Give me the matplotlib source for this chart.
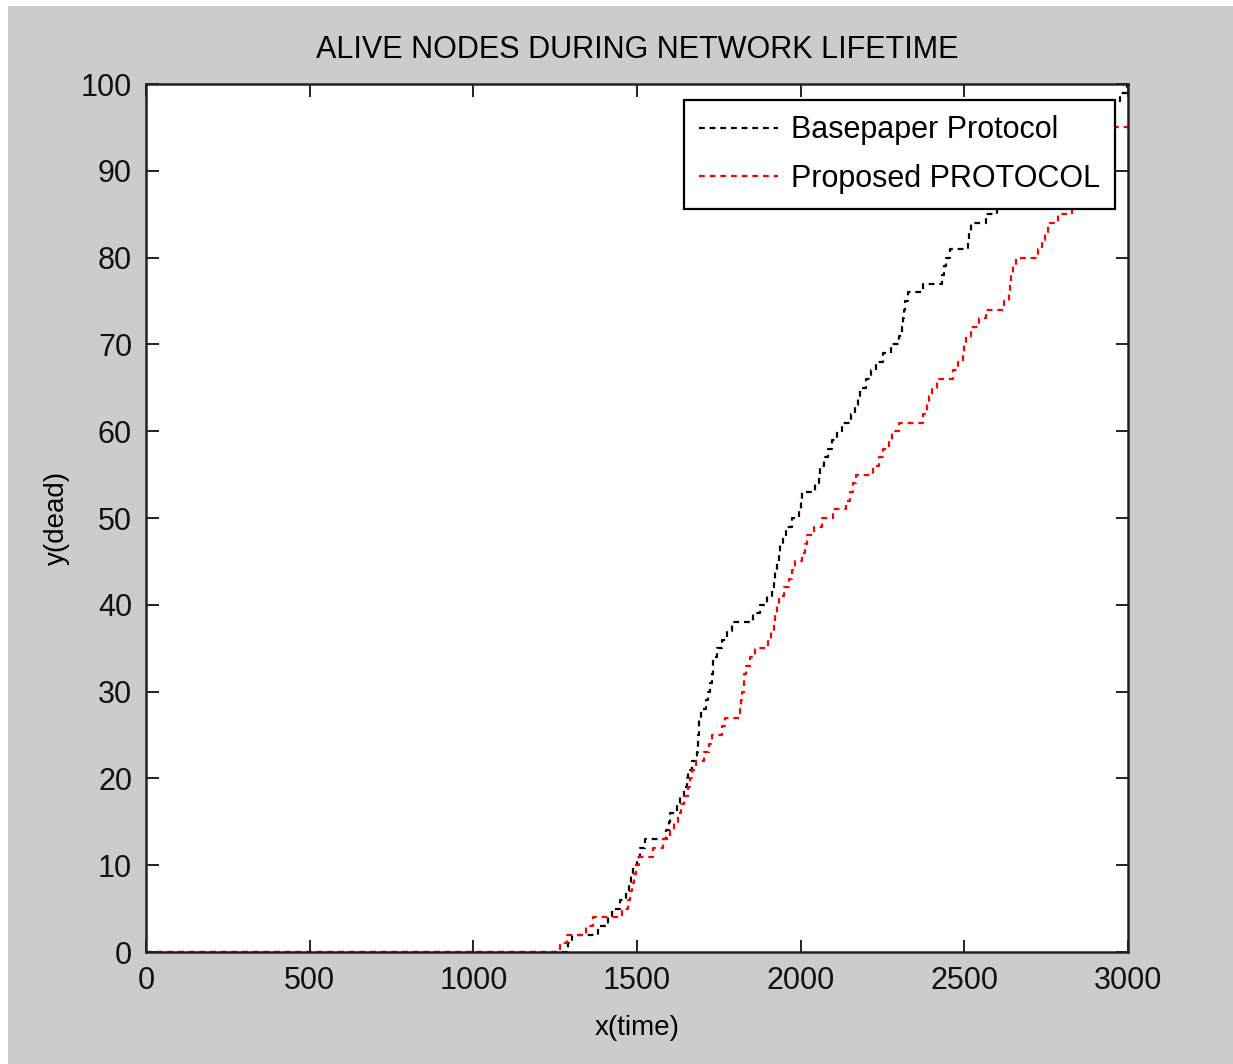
import matplotlib.pyplot as plt
from matplotlib.patches import Rectangle
from matplotlib import font_manager

# rounds at which the dead-node count steps up, and the count after the step
base_rounds = [0, 1290, 1300, 1380, 1410, 1424, 1448, 1465, 1475, 1482, 1488, 1500,
               1510, 1525, 1590, 1597, 1601, 1622, 1631, 1645, 1653, 1656, 1668,
               1683, 1686, 1690, 1695, 1710, 1718, 1723, 1729, 1732, 1745, 1760,
               1775, 1790, 1855, 1876, 1897, 1912, 1918, 1922, 1928, 1933, 1937,
               1946, 1955, 1975, 1995, 2000, 2005, 2045, 2055, 2060, 2070, 2085,
               2095, 2110, 2125, 2155, 2165, 2175, 2180, 2200, 2215, 2230, 2250,
               2275, 2300, 2310, 2313, 2316, 2319, 2328, 2375, 2432, 2438, 2445,
               2455, 2510, 2515, 2520, 2565, 2600, 2640, 2690, 2740, 2790, 2840,
               2900, 2975, 2998]
base_dead = [0, 1, 2, 3, 4, 5, 6, 7, 8, 9, 10, 11,
             12, 13, 14, 15, 16, 17, 18, 19, 20, 21, 22,
             23, 25, 27, 28, 29, 30, 31, 32, 34, 35, 36,
             37, 38, 39, 40, 41, 42, 43, 44, 45, 46, 47,
             48, 49, 50, 51, 52, 53, 54, 55, 56, 57, 58,
             59, 60, 61, 62, 63, 64, 65, 66, 67, 68, 69,
             70, 71, 72, 73, 74, 75, 76, 77, 78, 79, 80,
             81, 82, 83, 84, 85, 86, 88, 90, 92, 94, 96,
             98, 99, 100]

prop_rounds = [0, 1265, 1285, 1345, 1365, 1455, 1472, 1480, 1484, 1490, 1498, 1505,
               1550, 1580, 1600, 1612, 1625, 1635, 1645, 1655, 1662, 1668, 1680,
               1705, 1720, 1730, 1760, 1770, 1815, 1818, 1822, 1826, 1828, 1832,
               1845, 1860, 1900, 1910, 1918, 1922, 1928, 1935, 1950, 1965, 1975,
               1983, 2005, 2012, 2020, 2040, 2065, 2100, 2140, 2150, 2160, 2170,
               2220, 2240, 2250, 2270, 2280, 2300, 2375, 2385, 2392, 2400, 2415,
               2465, 2480, 2495, 2500, 2505, 2520, 2545, 2565, 2620, 2635, 2640,
               2643, 2648, 2658, 2725, 2738, 2745, 2755, 2785, 2830, 2870, 2910,
               2940, 2960]
prop_dead = [0, 1, 2, 3, 4, 5, 6, 7, 8, 9, 10, 11,
             12, 13, 14, 15, 16, 17, 18, 19, 20, 21, 22,
             23, 24, 25, 26, 27, 28, 29, 30, 31, 32, 33,
             34, 35, 36, 37, 38, 39, 40, 41, 42, 43, 44,
             45, 46, 47, 48, 49, 50, 51, 52, 53, 54, 55,
             56, 57, 58, 59, 60, 61, 62, 63, 64, 65, 66,
             67, 68, 69, 70, 71, 72, 73, 74, 75, 76, 77,
             78, 79, 80, 81, 82, 83, 84, 85, 87, 89, 91,
             93, 95]

x_ticks = [0, 500, 1000, 1500, 2000, 2500, 3000]
y_ticks = [0, 10, 20, 30, 40, 50, 60, 70, 80, 90, 100]

names = {f.name for f in font_manager.fontManager.ttflist}
fam = ['Liberation Sans Narrow'] if 'Liberation Sans Narrow' in names else ['Liberation Sans']
plt.rcParams['font.family'] = fam + ['DejaVu Sans']

W, H = 1233, 1064
fig = plt.figure(figsize=(W / 100, H / 100), dpi=100)
fig.patch.set_facecolor('white')
fig.patches.append(Rectangle((8 / W, 0), 1, (H - 6) / H, transform=fig.transFigure,
                             facecolor='#cccccc', edgecolor='none', zorder=-10))

ax = fig.add_axes([146 / W, (H - 952) / H, 982 / W, 868 / H])
ax.set_facecolor('white')

dash = (0, (2.6, 2.2))
ax.plot(base_rounds + [3000], base_dead + [base_dead[-1]], color='black',
        linestyle=dash, lw=1.6, drawstyle='steps-post', label='Basepaper Protocol')
ax.plot(prop_rounds + [3000], prop_dead + [prop_dead[-1]], color='red',
        linestyle=dash, lw=1.6, drawstyle='steps-post', label='Proposed PROTOCOL')

ax.set_xlim(0, 3000)
ax.set_ylim(0, 100)
ax.set_xticks(x_ticks)
ax.set_yticks(y_ticks)
ax.tick_params(direction='in', length=9, width=1.3, top=True, right=True,
               labelsize=22, pad=10, colors='#111111')
for s in ax.spines.values():
    s.set_linewidth(1.8)
    s.set_color('#222222')

ax.set_title('ALIVE NODES DURING NETWORK LIFETIME', fontsize=22, pad=19)
ax.set_xlabel('x(time)', fontsize=20, labelpad=14)
ax.set_ylabel('y(dead)', fontsize=20, labelpad=8)

leg = ax.legend(loc='upper right', bbox_to_anchor=(0.9868, 0.9816), borderaxespad=0,
                fontsize=22, fancybox=False, framealpha=1, edgecolor='black',
                handlelength=2.6, handletextpad=0.4, labelspacing=0.6,
                borderpad=0.5)
leg.get_frame().set_linewidth(1.6)

fig.savefig('out.png', dpi=100)
